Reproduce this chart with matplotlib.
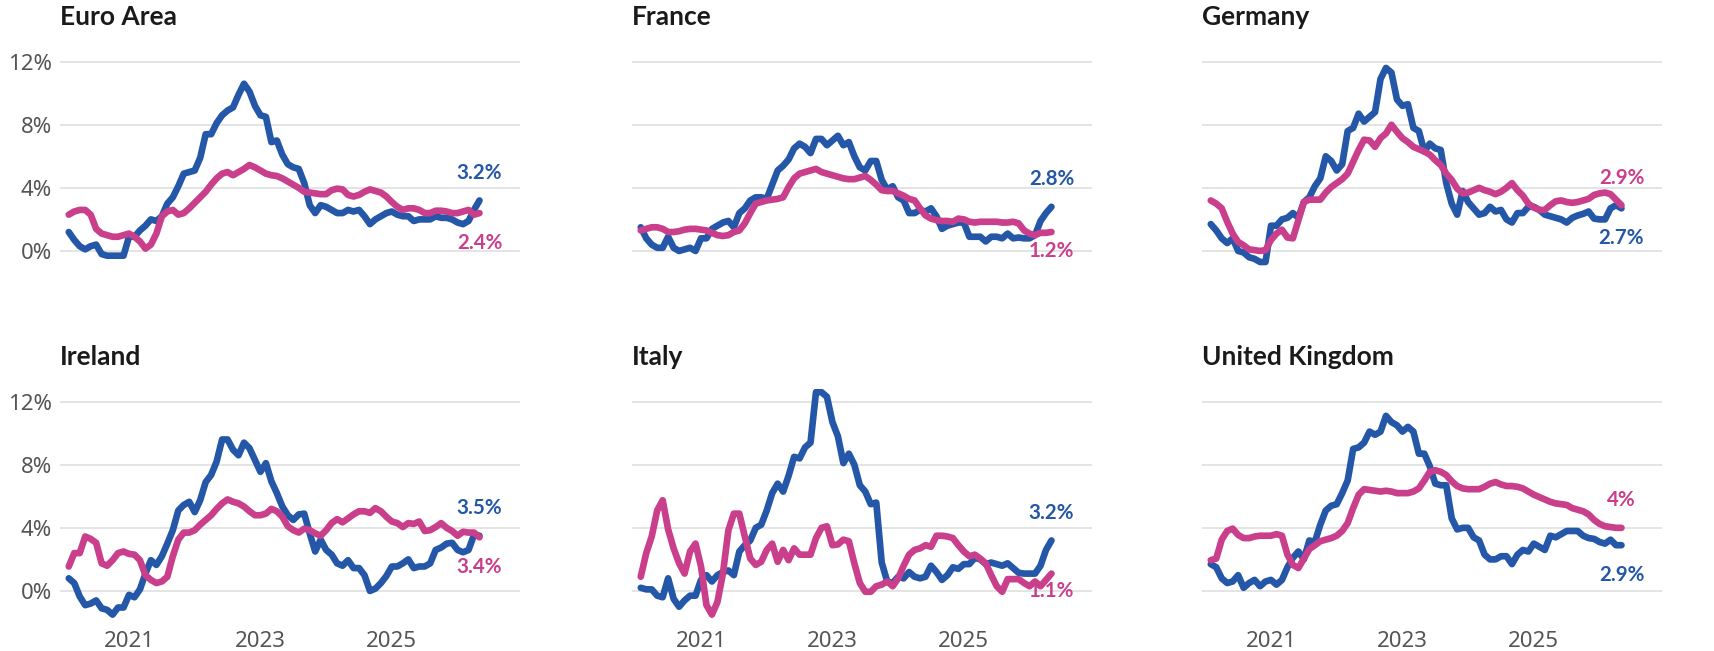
import numpy as np
import matplotlib
matplotlib.use("Agg")
import matplotlib.pyplot as plt

plt.rcParams['font.family'] = ['Noto Sans', 'DejaVu Sans']
BOLD_FAMILY = ['Lato', 'DejaVu Sans']

# Monthly observations, Feb 2020 .. May 2026
n_months = 76
countries = ["Euro Area", "France", "Germany", "Ireland", "Italy", "United Kingdom"]

euro_blue = [1.2, 0.7, 0.3, 0.1, 0.3, 0.4, -0.2, -0.3, -0.3, -0.3, -0.3,
             0.9, 0.9, 1.3, 1.6, 2.0, 1.9, 2.2, 3.0, 3.4, 4.1, 4.9, 5.0,
             5.1, 5.9, 7.4, 7.4, 8.1, 8.6, 8.9, 9.1, 9.9, 10.6, 10.1, 9.2,
             8.6, 8.5, 6.9, 7.0, 6.1, 5.5, 5.3, 5.2, 4.3, 2.9, 2.4, 2.9,
             2.8, 2.6, 2.4, 2.4, 2.6, 2.5, 2.6, 2.2, 1.7, 2.0, 2.2, 2.4,
             2.5, 2.3, 2.2, 2.2, 1.9, 2.0, 2.0, 2.0, 2.2, 2.1, 2.1, 2.0,
             1.8, 1.7, 1.9, 2.6, 3.2]
euro_pink = [2.3, 2.5, 2.6, 2.6, 2.3, 1.4, 1.1, 1.0, 0.9, 0.9, 1.0,
             1.1, 0.9, 0.6, 0.15, 0.4, 1.1, 2.2, 2.5, 2.6, 2.3, 2.4, 2.7,
             3.05, 3.4, 3.75, 4.2, 4.6, 4.9, 5.0, 4.8, 5.0, 5.2, 5.45, 5.3,
             5.1, 4.9, 4.8, 4.75, 4.6, 4.4, 4.2, 4.0, 3.75, 3.7, 3.65, 3.6,
             3.6, 3.85, 3.95, 3.9, 3.55, 3.45, 3.55, 3.75, 3.9, 3.8, 3.7, 3.45,
             3.1, 2.8, 2.6, 2.7, 2.7, 2.6, 2.4, 2.4, 2.55, 2.55, 2.5, 2.4,
             2.4, 2.5, 2.6, 2.3, 2.4]

france_blue = [1.5, 0.8, 0.4, 0.2, 0.2, 0.9, 0.2, 0.0, 0.1, 0.2, 0.0,
               0.8, 0.8, 1.4, 1.6, 1.8, 1.9, 1.5, 2.4, 2.7, 3.2, 3.4, 3.4,
               3.3, 4.2, 5.1, 5.4, 5.8, 6.5, 6.8, 6.6, 6.2, 7.1, 7.1, 6.7,
               7.0, 7.3, 6.7, 6.9, 6.0, 5.3, 5.1, 5.7, 5.7, 4.5, 3.9, 4.1,
               3.4, 3.2, 2.4, 2.4, 2.6, 2.5, 2.7, 2.2, 1.4, 1.6, 1.7, 1.8,
               1.8, 0.9, 0.9, 0.9, 0.6, 0.9, 0.9, 0.8, 1.1, 0.8, 0.85, 0.8,
               0.8, 1.0, 1.9, 2.4, 2.8]
france_pink = [1.3, 1.4, 1.5, 1.5, 1.4, 1.2, 1.2, 1.25, 1.35, 1.4, 1.4,
               1.35, 1.3, 1.15, 1.0, 0.95, 1.0, 1.2, 1.3, 1.75, 2.4, 3.0, 3.1,
               3.2, 3.25, 3.3, 3.4, 4.05, 4.6, 4.9, 5.0, 5.1, 5.2, 5.0, 4.9,
               4.8, 4.7, 4.6, 4.55, 4.55, 4.65, 4.75, 4.5, 4.2, 3.85, 3.8, 3.8,
               3.65, 3.5, 3.3, 3.2, 2.7, 2.25, 2.05, 1.95, 1.9, 1.9, 1.85, 2.05,
               2.0, 1.85, 1.8, 1.85, 1.85, 1.85, 1.85, 1.8, 1.8, 1.85, 1.75, 1.3,
               1.1, 1.0, 1.15, 1.15, 1.2]

germany_blue = [1.7, 1.3, 0.8, 0.5, 0.8, 0.0, -0.1, -0.4, -0.5, -0.7, -0.7,
                1.6, 1.6, 2.0, 2.1, 2.4, 2.1, 3.1, 3.4, 4.1, 4.6, 6.0, 5.7,
                5.1, 5.5, 7.6, 7.8, 8.7, 8.2, 8.5, 8.8, 10.9, 11.6, 11.3, 9.6,
                9.2, 9.3, 7.8, 7.6, 6.3, 6.8, 6.5, 6.4, 4.3, 3.0, 2.3, 3.8,
                3.1, 2.7, 2.3, 2.4, 2.8, 2.5, 2.6, 2.0, 1.8, 2.4, 2.4, 2.8,
                2.8, 2.6, 2.3, 2.2, 2.1, 2.0, 1.8, 2.1, 2.25, 2.35, 2.5, 2.05,
                2.0, 2.0, 2.7, 2.9, 2.7]
germany_pink = [3.2, 3.0, 2.7, 1.85, 1.1, 0.57, 0.36, 0.1, 0.05, 0.0, 0.05,
                0.7, 1.1, 1.35, 0.85, 0.8, 1.95, 3.1, 3.25, 3.25, 3.25, 3.7, 4.05,
                4.3, 4.55, 4.9, 5.65, 6.4, 7.05, 7.0, 6.6, 7.15, 7.45, 8.0, 7.55,
                7.15, 6.9, 6.6, 6.45, 6.3, 6.1, 5.75, 5.45, 4.9, 4.5, 3.95, 3.65,
                3.7, 3.85, 4.0, 3.85, 3.75, 3.6, 3.75, 4.0, 4.3, 3.85, 3.5, 3.0,
                2.75, 2.6, 2.6, 2.9, 3.15, 3.2, 3.1, 3.05, 3.1, 3.2, 3.3, 3.55,
                3.65, 3.7, 3.6, 3.25, 2.9]

ireland_blue = [0.8, 0.5, -0.35, -0.9, -0.8, -0.6, -1.1, -1.2, -1.5, -1.05, -1.05,
                -0.25, -0.4, 0.1, 1.1, 1.95, 1.65, 2.2, 3.0, 3.85, 5.1, 5.45, 5.65,
                5.0, 5.75, 6.9, 7.35, 8.2, 9.6, 9.6, 8.95, 8.6, 9.4, 9.05, 8.3,
                7.55, 8.1, 6.95, 6.2, 5.35, 4.8, 4.5, 4.85, 4.9, 3.65, 2.5, 3.25,
                2.6, 2.3, 1.75, 1.6, 1.95, 1.45, 1.45, 1.0, 0.0, 0.15, 0.5, 0.95,
                1.55, 1.55, 1.75, 2.0, 1.45, 1.55, 1.55, 1.75, 2.6, 2.75, 3.0, 3.05,
                2.6, 2.45, 2.6, 3.55, 3.5]
ireland_pink = [1.55, 2.4, 2.4, 3.45, 3.3, 3.05, 1.75, 1.6, 1.95, 2.4, 2.5,
                2.35, 2.3, 1.95, 1.0, 0.7, 0.5, 0.6, 0.9, 2.2, 3.25, 3.7, 3.7,
                3.85, 4.2, 4.5, 4.8, 5.2, 5.55, 5.8, 5.65, 5.55, 5.35, 5.05, 4.8,
                4.8, 4.9, 5.2, 5.05, 4.7, 4.1, 3.85, 3.7, 3.95, 3.85, 3.65, 3.5,
                3.85, 4.3, 4.55, 4.35, 4.6, 4.85, 5.05, 5.05, 4.95, 5.25, 5.05, 4.7,
                4.4, 4.3, 4.05, 4.3, 4.25, 4.4, 3.8, 3.85, 4.05, 4.3, 4.0, 3.8,
                3.5, 3.75, 3.7, 3.7, 3.4]

italy_blue = [0.2, 0.1, 0.1, -0.3, -0.4, 0.8, -0.5, -1.0, -0.6, -0.3, -0.3,
              0.7, 1.0, 0.6, 1.0, 1.2, 1.3, 1.0, 2.5, 2.9, 3.2, 4.0, 4.2,
              5.1, 6.2, 6.8, 6.3, 7.3, 8.5, 8.4, 9.1, 9.4, 12.6, 12.6, 12.3,
              10.7, 9.8, 8.1, 8.7, 8.0, 6.7, 6.3, 5.5, 5.6, 1.8, 0.6, 0.5,
              0.9, 0.8, 1.2, 0.9, 0.8, 0.9, 1.6, 1.2, 0.7, 1.0, 1.5, 1.4,
              1.7, 1.7, 2.1, 2.0, 1.7, 1.8, 1.7, 1.6, 1.75, 1.45, 1.15, 1.1,
              1.1, 1.1, 1.6, 2.6, 3.2]
italy_pink = [0.9, 2.4, 3.45, 5.1, 5.75, 3.9, 2.7, 1.75, 1.1, 2.5, 3.0,
              1.55, -0.9, -1.5, -0.7, 1.1, 3.85, 4.9, 4.9, 3.45, 2.05, 1.65, 1.85,
              2.6, 3.0, 1.85, 2.6, 1.95, 2.7, 2.3, 2.3, 2.3, 3.35, 4.0, 4.1,
              2.9, 2.95, 3.25, 3.15, 1.75, 0.5, -0.05, -0.05, 0.3, 0.4, 0.6, 0.3,
              0.8, 1.6, 2.3, 2.6, 2.7, 2.9, 2.8, 3.5, 3.5, 3.45, 3.35, 2.9,
              2.5, 2.2, 2.3, 2.05, 1.75, 1.0, 0.3, -0.05, 0.75, 0.75, 0.75, 0.5,
              0.3, 0.6, 0.3, 0.7, 1.1]

uk_blue = [1.7, 1.5, 0.8, 0.5, 0.6, 1.0, 0.2, 0.5, 0.7, 0.3, 0.6,
           0.7, 0.4, 0.7, 1.5, 2.1, 2.5, 2.0, 3.2, 3.1, 4.2, 5.1, 5.4,
           5.5, 6.2, 7.0, 9.0, 9.1, 9.4, 10.1, 9.9, 10.1, 11.1, 10.7, 10.5,
           10.1, 10.4, 10.1, 8.7, 8.7, 7.9, 6.8, 6.7, 6.7, 4.6, 3.9, 4.0,
           4.0, 3.4, 3.2, 2.3, 2.0, 2.0, 2.2, 2.2, 1.7, 2.3, 2.6, 2.5,
           3.0, 2.8, 2.6, 3.5, 3.4, 3.6, 3.8, 3.8, 3.8, 3.5, 3.35, 3.3,
           3.1, 3.0, 3.25, 2.9, 2.9]
uk_pink = [1.95, 2.05, 3.25, 3.8, 3.95, 3.55, 3.35, 3.35, 3.45, 3.5, 3.5,
           3.5, 3.6, 3.5, 2.3, 1.65, 1.45, 2.05, 2.65, 2.9, 3.15, 3.25, 3.35,
           3.5, 3.8, 4.3, 5.25, 6.1, 6.45, 6.4, 6.35, 6.3, 6.35, 6.3, 6.2,
           6.2, 6.2, 6.3, 6.5, 7.0, 7.55, 7.65, 7.55, 7.35, 6.95, 6.65, 6.5,
           6.45, 6.45, 6.45, 6.6, 6.8, 6.9, 6.75, 6.65, 6.65, 6.6, 6.5, 6.3,
           6.1, 5.95, 5.8, 5.65, 5.55, 5.5, 5.45, 5.25, 5.15, 5.05, 4.85, 4.5,
           4.25, 4.1, 4.05, 4.0, 4.0]

blue_series = [euro_blue, france_blue, germany_blue, ireland_blue, italy_blue, uk_blue]
pink_series = [euro_pink, france_pink, germany_pink, ireland_pink, italy_pink, uk_pink]
blue_labels = ["3.2%", "2.8%", "2.7%", "3.5%", "3.2%", "2.9%"]
pink_labels = ["2.4%", "1.2%", "2.9%", "3.4%", "1.1%", "4%"]

y_ticks = [0, 4, 8, 12]
y_ticklabels = ["0%", "4%", "8%", "12%"]
x_ticks = [2021, 2023, 2025]
x_ticklabels = ["2021", "2023", "2025"]

BLUE = "#2457a7"
PINK = "#c93f8b"
GRID = "#dcdcdc"
TICK = "#555555"
TITLE = "#1a1a1a"

x = 2020 + (np.arange(n_months) + 1) / 12.0

W, H = 1715, 651
fig = plt.figure(figsize=(W / 100, H / 100), dpi=100)

lefts = [60, 632, 1202]
ax_w = 460
tops = [49, 389]
ax_h = 233.5

for i, name in enumerate(countries):
    r, c = divmod(i, 3)
    left = lefts[c] / W
    bottom = (H - tops[r] - ax_h) / H
    ax = fig.add_axes([left, bottom, ax_w / W, ax_h / H])
    ax.set_xlim(2019.95, 2026.95)
    ax.set_ylim(-2.0, 12.8)
    for s in ax.spines.values():
        s.set_visible(False)
    ax.set_yticks(y_ticks)
    ax.yaxis.grid(True, color=GRID, linewidth=1.1)
    ax.set_axisbelow(True)
    ax.tick_params(length=0, labelsize=16, labelcolor=TICK, pad=6)
    if c == 0:
        ax.set_yticklabels(y_ticklabels)
    else:
        ax.set_yticklabels([])
    ax.set_xticks(x_ticks)
    if r == 1:
        ax.set_xticklabels(x_ticklabels)
    else:
        ax.set_xticklabels([])

    b = np.array(blue_series[i])
    p = np.array(pink_series[i])
    ax.plot(x, b, color=BLUE, lw=4.8, solid_joinstyle='round', solid_capstyle='round', zorder=3)
    ax.plot(x, p, color=PINK, lw=4.8, solid_joinstyle='round', solid_capstyle='round', zorder=4)

    ax.set_title(name, loc='left', fontsize=19, fontweight='bold', color=TITLE, pad=17,
                 family=BOLD_FAMILY)

    # end labels: higher series above, lower series below (not below 0%)
    if b[-1] >= p[-1]:
        hi, lo = (b[-1], blue_labels[i], BLUE), (p[-1], pink_labels[i], PINK)
    else:
        hi, lo = (p[-1], pink_labels[i], PINK), (b[-1], blue_labels[i], BLUE)
    ax.text(x[-1], hi[0] + 1.75, hi[1], color=hi[2], fontsize=14.8, fontweight='bold',
            family=BOLD_FAMILY, ha='center', va='center', zorder=5)
    ax.text(x[-1], max(lo[0] - 1.9, 0.0), lo[1], color=lo[2], fontsize=14.8, fontweight='bold',
            family=BOLD_FAMILY, ha='center', va='center', zorder=5)

fig.savefig("out.png", dpi=100, facecolor="white")
